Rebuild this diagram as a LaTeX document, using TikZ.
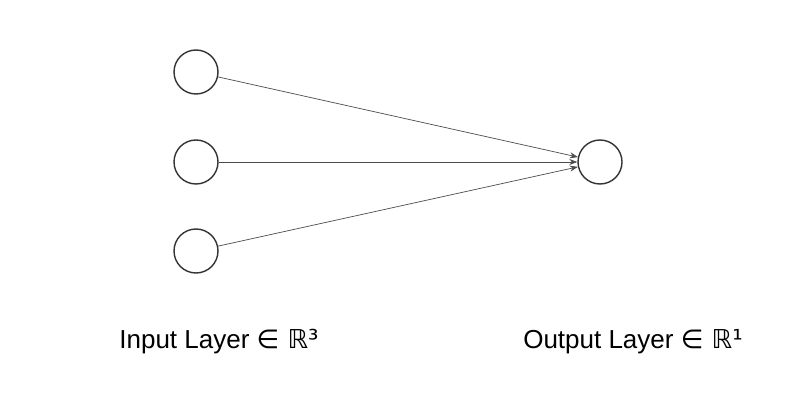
\documentclass[tikz,border=0pt]{standalone}
\usepackage{fontspec}
\setmainfont{Liberation Sans}
\newfontfamily\symfont{DejaVu Sans}
\usetikzlibrary{arrows.meta}
\tikzset{
  neuron/.style={draw=black!80,line width=1.4pt,circle,minimum size=44pt,inner sep=0pt},
  conn/.style={draw=black!70,line width=0.7pt,-{Stealth[length=8pt,width=6pt]}},
  caption/.style={font=\fontsize{26}{30}\selectfont}
}
\begin{document}
\begin{tikzpicture}[x=1pt,y=-1pt]
  \useasboundingbox (0,0) rectangle (803,414);
  % input layer
  \foreach \n/\y in {1/72,2/162,3/251}{
    \node[neuron] (I-\n) at (196,\y) {};
  }
  % output layer
  \node[neuron] (O-1) at (600,162) {};
  \foreach \n in {1,2,3}{
    \draw[conn] (I-\n) -- (O-1);
  }
  \node[caption] (in-lbl) at (219,342) {Input Layer {\symfont ∈ ℝ³}};
  \node[caption] (out-lbl) at (633,342) {Output Layer {\symfont ∈ ℝ¹}};
\end{tikzpicture}
\end{document}
